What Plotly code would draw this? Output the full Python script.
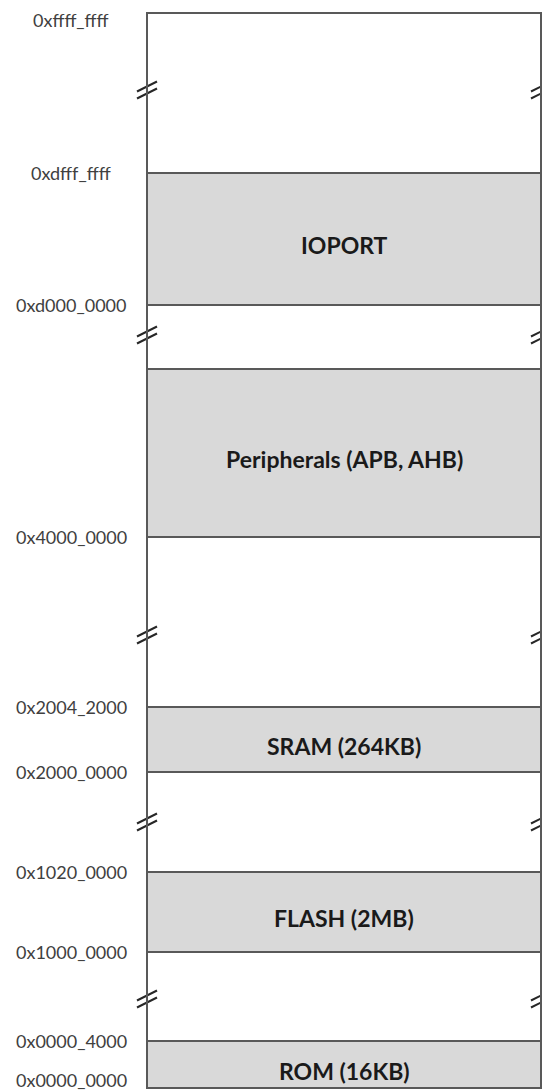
import plotly.graph_objects as go

# ---- data (schematic units, bottom of map = 0) ----
region_names = ["ROM (16KB)", "FLASH (2MB)", "SRAM (264KB)",
                "Peripherals (APB, AHB)", "IOPORT"]
region_lo = [0, 136, 316, 551, 783]
region_hi = [47, 216, 381, 719, 915]

addr_labels = ["0x0000_0000", "0x0000_4000", "0x1000_0000", "0x1020_0000",
               "0x2000_0000", "0x2004_2000", "0x4000_0000", "0xd000_0000",
               "0xdfff_ffff", "0xffff_ffff"]
addr_pos = [0, 47, 136, 216, 316, 381, 551, 783, 915, 1075]

break_pos = [89, 266, 453, 753, 998]

MAP_TOP = 1075
BOX_W = 394

# ---- style ----
LINE = "#595959"
FILL = "#d9d9d9"
LABEL_FONT = dict(family="Lato, 'Open Sans', sans-serif", size=18, color="#404040")
REGION_FONT = dict(family="Lato, 'Open Sans', sans-serif", size=23, color="#1a1a1a")

fig = go.Figure()

# regions as floating bars
fig.add_trace(go.Bar(
    x=[BOX_W / 2] * len(region_names),
    y=[h - l for l, h in zip(region_lo, region_hi)],
    base=region_lo,
    width=[BOX_W] * len(region_names),
    marker=dict(color=FILL, line=dict(color=LINE, width=1.8)),
    hoverinfo="skip",
    showlegend=False,
))

# region names
for name, lo, hi in zip(region_names, region_lo, region_hi):
    fig.add_annotation(x=BOX_W / 2, y=(lo + hi) / 2, text="<b>%s</b>" % name,
                       showarrow=False, xanchor="center", yanchor="middle",
                       yshift=-6, font=REGION_FONT)

# outer box
fig.add_shape(type="rect", x0=0, x1=BOX_W, y0=0, y1=MAP_TOP,
              line=dict(color=LINE, width=2), layer="above")

# break markers (left and right edge)
for yb in break_pos:
    for xc in (0, BOX_W):
        for off in (-3.5, 3.5):
            fig.add_trace(go.Scatter(
                x=[xc - 10, xc + 10], y=[yb + off - 5, yb + off + 5],
                mode="lines", line=dict(color="#262626", width=2),
                hoverinfo="skip", showlegend=False))

# address labels
for lab, pos in zip(addr_labels, addr_pos):
    shift = 0
    if pos == MAP_TOP:
        shift = -7
    elif pos == 0:
        shift = 8
    fig.add_annotation(x=-76, y=pos, text=lab, showarrow=False,
                       xanchor="center", yanchor="middle", yshift=shift,
                       font=LABEL_FONT)

fig.update_layout(
    width=542, height=1091,
    margin=dict(l=0, r=0, t=0, b=0),
    paper_bgcolor="white", plot_bgcolor="white",
    barmode="overlay",
    xaxis=dict(range=[-147, 395], visible=False, fixedrange=True),
    yaxis=dict(range=[-3, 1088], visible=False, fixedrange=True),
)

fig.write_html("out.html",
               config={"displayModeBar": False, "staticPlot": True},
               post_script="document.body.style.margin='0';"
                           "document.body.style.overflow='hidden';")
